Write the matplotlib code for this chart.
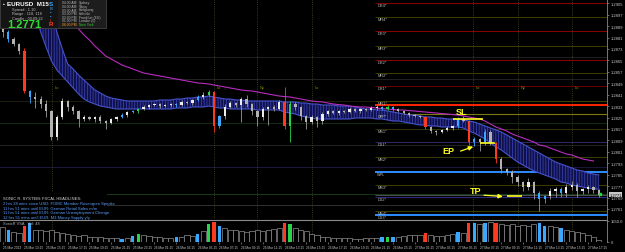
import matplotlib
matplotlib.use("Agg")
import matplotlib.pyplot as plt
from matplotlib.patches import Rectangle

plt.rcParams['font.family'] = ['Liberation Sans', 'DejaVu Sans']
plt.rcParams['hatch.linewidth'] = 0.55

# ---------------- data (prices stored as pips above BASE) ----------------
BASE = 1.2700
PIP = 0.0001
first_open = 187.0
close_pips = [184.9, 180.0, 176.5, 171.6, 143.6, 139.4, 138.0, 134.5, 129.6, 111.4,
              125.4, 136.6, 132.4, 129.6, 124.0, 125.4, 124.0, 125.4, 122.6, 121.2,
              124.0, 125.4, 126.8, 128.9, 129.6, 131.0, 132.4, 133.8, 134.5, 133.1,
              133.8, 134.5, 133.8, 135.9, 135.2, 137.3, 139.4, 140.8, 142.9, 119.1,
              126.1, 132.4, 135.2, 133.8, 138.0, 134.5, 129.6, 125.4, 131.0, 132.4,
              131.0, 135.9, 119.1, 134.5, 132.4, 126.1, 121.9, 125.4, 122.6, 127.5,
              129.6, 128.2, 129.6, 128.9, 131.0, 129.6, 131.0, 130.3, 131.7, 132.4,
              131.0, 132.4, 131.0, 129.6, 128.2, 126.8, 126.1, 125.4, 118.4, 115.6,
              114.9, 116.3, 117.7, 119.1, 124.0, 122.6, 107.9, 110.0, 107.9, 114.9,
              107.2, 96.0, 89.0, 86.9, 83.4, 79.9, 76.4, 79.9, 72.2, 68.0,
              70.1, 73.6, 75.0, 72.2, 76.4, 77.8, 73.6, 75.0, 76.4, 74.3,
              71.0]
up_wick = [2.5, 1.5, 1.2, 1.0, 2.0, 1.0, 3.5, 2.0, 2.5, 1.0,
           1.5, 2.0, 1.0, 1.2, 0.8, 1.5, 1.0, 0.8, 1.2, 0.6,
           1.0, 0.8, 1.2, 0.6, 1.0, 0.8, 1.5, 0.8, 1.0, 0.6,
           0.8, 0.6, 1.0, 1.2, 0.8, 1.0, 1.2, 2.0, 1.5, 1.0,
           1.0, 2.0, 1.5, 1.0, 1.5, 2.5, 1.0, 0.8, 1.5, 1.0,
           1.2, 1.5, 10.5, 2.0, 1.5, 1.0, 0.8, 1.5, 1.0, 1.2,
           1.0, 0.8, 1.0, 0.6, 1.2, 0.8, 1.0, 0.6, 1.2, 1.5,
           1.0, 1.2, 0.8, 1.0, 0.6, 0.8, 1.0, 0.6, 1.0, 0.8,
           0.6, 1.0, 1.2, 0.8, 1.5, 2.0, 1.0, 1.5, 1.0, 2.0,
           1.5, 1.0, 1.5, 1.0, 1.2, 1.5, 1.0, 2.5, 1.0, 1.5,
           1.0, 2.0, 1.2, 1.5, 2.0, 2.5, 1.5, 1.0, 1.2, 1.0,
           0.8]
dn_wick = [3.5, 2.0, 1.5, 2.0, 1.5, 4.5, 6.0, 3.0, 4.5, 2.0,
           2.0, 1.5, 2.5, 2.0, 5.5, 1.5, 1.0, 2.0, 1.5, 4.0,
           1.0, 1.5, 0.8, 1.2, 1.0, 1.5, 1.0, 1.2, 0.8, 1.5,
           1.0, 1.2, 1.5, 1.0, 0.8, 1.2, 1.0, 1.5, 1.0, 4.0,
           1.5, 2.0, 1.0, 1.5, 12.0, 2.0, 3.0, 6.0, 2.0, 11.0,
           1.5, 1.0, 2.0, 11.0, 2.0, 3.0, 5.0, 1.5, 4.5, 2.0,
           1.5, 1.0, 1.2, 1.0, 0.8, 1.0, 1.2, 0.8, 1.0, 1.2,
           0.8, 1.0, 1.2, 0.8, 1.0, 1.2, 0.8, 1.0, 1.5, 1.5,
           2.0, 1.0, 1.0, 1.2, 1.5, 1.0, 2.0, 3.0, 6.5, 2.0,
           1.5, 3.0, 2.5, 2.0, 4.0, 2.5, 3.0, 2.0, 4.0, 8.5,
           3.0, 2.0, 4.0, 2.5, 3.0, 2.0, 4.5, 2.0, 3.0, 2.0,
           1.5]
candle_signal = {1: 'b', 4: 'r', 5: 'b', 22: 'b', 24: 'b', 25: 'g', 32: 'b', 36: 'b',
                 38: 'g', 39: 'r', 40: 'b', 52: 'r', 53: 'g', 70: 'b', 71: 'g', 72: 'b',
                 78: 'r', 84: 'b', 86: 'r', 87: 'b', 89: 'b', 91: 'r', 99: 'b', 100: 'b',
                 103: 'b'}
volume = [1100, 850, 700, 650, 1150, 1350, 900, 850, 800, 900,
          700, 650, 550, 500, 450, 500, 400, 350, 380, 300,
          280, 300, 250, 300, 450, 600, 500, 420, 380, 350,
          300, 280, 350, 400, 500, 450, 600, 800, 1300, 1450,
          1200, 1000, 900, 850, 800, 750, 800, 850, 800, 900,
          950, 1000, 1350, 1300, 1000, 850, 800, 600, 500, 400,
          350, 300, 320, 300, 260, 250, 240, 260, 280, 300,
          350, 380, 380, 400, 420, 500, 480, 520, 650, 480,
          450, 420, 500, 600, 700, 650, 1400, 1400, 1300, 1400,
          1450, 1350, 1300, 1250, 1300, 1200, 1250, 1150, 1300, 1350,
          1200, 1150, 1100, 1000, 900, 800, 700, 650, 500, 400,
          150]
band_hi = [310.9, 299.0, 285.0, 273.1, 261.9, 247.9, 236.0, 222.0, 210.1, 198.9,
           184.9, 173.0, 162.5, 159.0, 154.8, 151.3, 147.8, 144.3, 142.2, 140.1,
           138.7, 138.0, 137.3, 136.6, 136.6, 136.6, 136.6, 136.6, 136.6, 137.3,
           137.3, 137.3, 138.0, 138.0, 138.7, 138.7, 139.4, 139.4, 140.1, 139.4,
           138.7, 138.0, 138.0, 137.3, 137.3, 136.6, 136.6, 136.6, 136.6, 136.6,
           136.6, 136.6, 135.9, 135.9, 135.9, 135.2, 135.2, 134.5, 134.5, 133.8,
           133.8, 133.8, 133.1, 133.1, 133.1, 132.4, 131.7, 131.0, 131.0, 130.3,
           130.3, 129.6, 128.9, 128.2, 127.5, 126.8, 126.8, 126.1, 125.4, 125.4,
           124.7, 124.7, 124.0, 124.0, 124.0, 123.3, 122.6, 121.9, 120.5, 119.1,
           117.7, 116.3, 114.9, 112.8, 110.7, 108.6, 106.5, 104.4, 102.3, 100.2,
           98.1, 96.0, 93.9, 92.5, 91.1, 89.7, 88.3, 87.6, 86.2, 85.5,
           84.8]
band_lo = [264.7, 254.2, 241.6, 231.1, 220.6, 208.0, 197.5, 184.9, 174.4, 164.6,
           158.3, 154.1, 149.9, 145.7, 141.5, 138.0, 135.9, 134.5, 133.1, 132.4,
           131.7, 131.0, 131.0, 131.0, 131.0, 131.0, 131.0, 131.0, 131.0, 131.0,
           131.0, 131.0, 131.7, 131.7, 131.7, 132.4, 132.4, 132.4, 133.1, 132.4,
           131.7, 131.7, 131.0, 131.0, 131.0, 131.0, 131.0, 130.3, 130.3, 130.3,
           130.3, 130.3, 128.9, 128.2, 127.5, 126.1, 125.4, 124.7, 124.0, 124.0,
           124.0, 124.0, 124.0, 124.0, 124.0, 124.7, 124.7, 124.7, 124.7, 124.0,
           124.0, 123.3, 122.6, 122.6, 121.9, 121.2, 120.5, 119.8, 119.8, 119.1,
           119.1, 118.4, 118.4, 118.4, 118.4, 117.7, 115.6, 114.2, 112.1, 110.0,
           107.2, 104.4, 102.3, 99.5, 96.7, 93.9, 91.8, 89.7, 87.6, 86.2,
           84.8, 83.4, 82.0, 79.9, 79.2, 77.8, 77.1, 76.4, 75.7, 75.0,
           75.0]
slow_ma = [250.0, 244.4, 238.8, 233.9, 229.0, 223.4, 218.5, 213.6, 210.1, 206.6,
           202.4, 198.9, 194.7, 191.2, 187.0, 182.8, 179.3, 175.1, 171.6, 168.1,
           166.0, 163.9, 161.8, 160.4, 159.0, 157.6, 156.2, 155.5, 154.8, 154.1,
           153.4, 152.7, 152.0, 151.3, 150.6, 149.9, 149.2, 148.9, 148.5, 147.8,
           147.1, 146.4, 145.7, 145.0, 144.3, 143.9, 143.6, 142.9, 142.2, 141.5,
           140.8, 140.1, 139.7, 139.4, 138.7, 138.0, 137.3, 136.6, 136.2, 135.9,
           135.2, 134.5, 134.1, 133.8, 133.1, 132.7, 132.4, 132.4, 132.0, 131.7,
           131.3, 131.0, 130.6, 130.3, 130.3, 129.9, 129.6, 129.2, 128.9, 128.5,
           128.2, 127.8, 127.5, 127.1, 126.8, 126.1, 125.4, 124.7, 124.0, 122.6,
           120.5, 118.4, 117.0, 115.6, 113.5, 112.1, 110.7, 109.3, 107.9, 105.8,
           105.1, 103.7, 102.3, 100.9, 99.5, 98.8, 97.4, 96.0, 95.3, 94.6,
           None]

pivot_names = ["DR4*", "MR4*", "DR3*", "MR3*", "DR2*", "MR2*", "DR1*", "MR1*", "",
               "DPP*", "MS1*", "DS1*", "MS2*", "WPL", "MS3*", "DS2*", "MS4*", "DS3*"]
pivot_pips = [205.2, 195.4, 185.6, 175.1, 165.3, 156.2, 147.1, 136.6, 133.8,
              127.5, 117.0, 107.9, 97.4, 86.9, 77.8, 69.4, 59.6, 56.8]
pivot_colors = ['#8e0000', '#474700', '#8e0000', '#474700', '#8e0000', '#474700',
                '#6a0000', '#474700', '#ff2400', '#7a7a10', '#3c3c10', '#302a6a',
                '#474700', '#2d8cff', '#474700', '#342c80', '#474700', '#2d8cff']
pivot_widths = [0.7, 0.6, 0.7, 0.6, 0.7, 0.6, 0.7, 0.6, 1.4,
                0.8, 0.6, 0.7, 0.6, 1.4, 0.6, 0.7, 0.6, 1.4]
pivot_start_bar = 68.7

wide_pips = [167.4, 152.0, 136.6, 121.2, 105.8, 90.4, 71.5, 63.8]
wide_colors = ['#262626', '#282828', '#22220e', '#143414', '#282828', '#201c48', '#1c441c', '#383838']

session_bars = [9.1, 39.0, 46.9, 57.1, 86.8, 95.1, 105.0]
session_names = ["Lo", "Lo", "Ny", "Lo", "Lo", "Ny", "Lo"]

date_labels = ["25 Mar 2013", "25 Mar 13:15", "25 Mar 15:15", "25 Mar 17:15", "25 Mar 19:15",
               "25 Mar 21:15", "25 Mar 23:15", "26 Mar 01:15", "26 Mar 03:15", "26 Mar 05:15",
               "26 Mar 07:15", "26 Mar 09:15", "26 Mar 11:15", "26 Mar 13:15", "26 Mar 15:15",
               "26 Mar 17:15", "26 Mar 19:15", "26 Mar 21:15", "26 Mar 23:15", "27 Mar 01:15",
               "27 Mar 03:15", "27 Mar 05:15", "27 Mar 07:15", "27 Mar 09:15", "27 Mar 11:15",
               "27 Mar 13:15", "27 Mar 15:15", "27 Mar 17:15"]
bars_per_label = 4

price_ticks = [1.2905, 1.2897, 1.2889, 1.2881, 1.2873, 1.2865, 1.2857, 1.2849, 1.2841,
               1.2833, 1.2825, 1.2817, 1.2809, 1.2801, 1.2793, 1.2785, 1.2777, 1.2769, 1.2761]
current_price = 1.2771

news_header = "SONIC R. SYSTEM: FXCAL HEADLINES:"
news_lines = ["2 hrs 28 mins since USD: FOMC Member Rosengren Speaks",
              "11 hrs 51 mins until EUR: German Retail Sales m/m",
              "11 hrs 51 mins until EUR: German Unemployment Change",
              "12 hrs 51 mins until EUR: M3 Money Supply y/y"]
clock_times = ["04:00 AM", "04:00 AM", "03:00 AM", "03:00 PM", "03:00 PM", "01:00 PM", "08:00 PM"]
clock_cities = ["Sydney", "Tokyo", "Hongkong", "Helsinki", "Frankfurt (EU)", "London (0)", "New York"]

# trade annotations (bar index, pips)
sl_text = (84.7, 128.9); sl_line = (83.1, 88.6, 124.0)
ep_text = (82.2, 101.6); ep_arrow = ((84.0, 100.9), (87.3, 105.3)); ep_line = (88.1, 90.8, 107.2)
tp_text = (87.3, 73.6); tp_arrow = ((88.3, 70.8), (92.8, 69.6)); tp_line = (93.0, 95.8, 70.1)
last_marker = (110.3, 71.4)

# ---------------- derived ----------------
N = len(close_pips)
xs = list(range(N))
P = lambda v: BASE + v * PIP
opens = [first_open] + close_pips[:-1]
closes = close_pips
highs = [max(o, c) + u for o, c, u in zip(opens, closes, up_wick)]
lows = [min(o, c) - d for o, c, d in zip(opens, closes, dn_wick)]
SIG = {'r': '#ff3b1f', 'b': '#3aa8ff', 'g': '#27d34a'}

BG = '#000000'
fig = plt.figure(figsize=(6.25, 2.53), dpi=100, facecolor=BG)
W, H = 625.0, 253.0
fx = lambda x: x / W
fy = lambda y: 1 - y / H

ax = fig.add_axes([0, fy(220), 607 / W, 220 / H], facecolor=BG)
axv = fig.add_axes([0, fy(243), 607 / W, 22 / H], facecolor=BG)
for a in (ax, axv):
    a.set_xlim(-0.5, 111.5)
    for s in ('left', 'top', 'bottom'):
        a.spines[s].set_visible(False)
    a.spines['right'].set_color('#8a8a8a')
    a.spines['right'].set_linewidth(0.6)
axv.spines['top'].set_visible(True)
axv.spines['top'].set_color('#8a8a8a')
axv.spines['top'].set_linewidth(0.8)
ax.set_ylim(P(54), P(208))
axv.set_ylim(0, 1600)

# wide horizontal levels
for p, c in zip(wide_pips, wide_colors):
    ax.axhline(P(p), color=c, lw=0.6, zorder=1)
# pivots
for name, p, c, w in zip(pivot_names, pivot_pips, pivot_colors, pivot_widths):
    ax.hlines(P(p), pivot_start_bar, 111.5, color=c, lw=w, zorder=1.5)
    if name:
        ax.text(pivot_start_bar + 0.4, P(p - 1.3), name, color='#bcbcbc', fontsize=2.8,
                va='center', ha='left', zorder=6)
ax.hlines(current_price, pivot_start_bar, 111.5, color='#6e6e6e', lw=0.5, zorder=1.6)

# sessions
for b, nm in zip(session_bars, session_names):
    for a in (ax, axv):
        a.axvline(b, color='#4e4e26', lw=0.6, ls=(0, (1, 1.6)), zorder=1)
    ax.text(b + 0.5, P(146.4), nm, color='#8c8c00', fontsize=2.8, va='center', ha='left')

# band (dragon)
ax.fill_between(xs, [P(v) for v in band_lo], [P(v) for v in band_hi], facecolor='#10104a',
                edgecolor='#3a44b4', hatch='||||||', lw=0, zorder=2)
ax.plot(xs, [P(v) for v in band_hi], color='#4652cc', lw=0.8, zorder=2.5)
ax.plot(xs, [P(v) for v in band_lo], color='#4652cc', lw=0.8, zorder=2.5)

# slow MA
ma_x = [x for x, v in zip(xs, slow_ma) if v is not None]
ma_y = [P(v) for v in slow_ma if v is not None]
ax.plot(ma_x, ma_y, color='#b82cc0', lw=0.8, zorder=2.6)

# candles
body_c, wick_c, bottoms, heights = [], [], [], []
for i, (o, c) in enumerate(zip(opens, closes)):
    s = candle_signal.get(i)
    if s:
        col = SIG[s]; wc = SIG[s]
    else:
        col = '#ececec' if c >= o else '#b2b2b2'; wc = '#9a9a9a'
    body_c.append(col); wick_c.append(wc)
    bottoms.append(P(min(o, c)))
    heights.append(max(abs(c - o), 0.4) * PIP)
ax.vlines(xs, [P(v) for v in lows], [P(v) for v in highs], colors=wick_c, lw=0.6, zorder=4)
ax.bar(xs, heights, bottom=bottoms, width=0.42, color=body_c, lw=0, zorder=5)
ax.plot([last_marker[0]], [P(last_marker[1])], 's', color='#22dd33', ms=1.6, zorder=6)

# right price axis
ax.yaxis.tick_right()
ax.set_yticks(price_ticks)
ax.set_yticklabels([f"{t:.4f}" for t in price_ticks])
ax.tick_params(axis='y', colors='#8a8a8a', labelcolor='#c8c8c8', labelsize=3.0, length=1.5,
               width=0.5, pad=1)
ax.set_xticks([])
ax.text(1.004, current_price, f"{current_price:.4f}", transform=ax.get_yaxis_transform(),
        fontsize=3.0, color='#000000', va='center', ha='left', clip_on=False,
        bbox=dict(boxstyle='square,pad=0.15', fc='#c8c8c8', ec='none'), zorder=10)

# volume panel
nv_x = [x for x in xs if x not in candle_signal]
nv_y = [volume[x] for x in nv_x]
axv.bar(nv_x, nv_y, width=0.95, facecolor=BG, edgecolor='#8e8e8e', lw=0.5, zorder=2)
sv_x = [x for x in xs if x in candle_signal]
axv.bar(sv_x, [volume[x] for x in sv_x], width=0.6, color=[SIG[candle_signal[x]] for x in sv_x],
        lw=0, zorder=3)
axv.yaxis.tick_right()
axv.set_yticks([1550, 0])
axv.set_yticklabels(["1550.0", "0"])
axv.tick_params(axis='y', colors='#8a8a8a', labelcolor='#c8c8c8', labelsize=3.0, length=1.5,
                width=0.5, pad=1)
axv.set_xticks([bars_per_label * k for k in range(len(date_labels))])
axv.set_xticklabels(date_labels)
axv.tick_params(axis='x', colors='#8a8a8a', labelcolor='#c8c8c8', labelsize=2.3, length=1.5,
                width=0.5, pad=1)
for lab in axv.get_xticklabels():
    lab.set_ha('left')
axv.text(0.005, 0.88, "SonicR VSA   Vol: 48", transform=axv.transAxes, fontsize=2.8,
         color='#b0b0b0', va='center', ha='left')

# annotations
YEL = '#ffff22'
ax.text(sl_text[0], P(sl_text[1]), "SL", color=YEL, fontsize=6.5, fontweight='bold',
        ha='center', va='center', zorder=8)
ax.hlines(P(sl_line[2]), sl_line[0], sl_line[1], color=YEL, lw=1.2, zorder=8)
ax.text(ep_text[0], P(ep_text[1]), "EP", color=YEL, fontsize=6.5, fontweight='bold',
        ha='center', va='center', zorder=8)
ax.annotate("", xy=(ep_arrow[1][0], P(ep_arrow[1][1])), xytext=(ep_arrow[0][0], P(ep_arrow[0][1])),
            arrowprops=dict(arrowstyle='-|>,head_length=0.25,head_width=0.12', color=YEL, lw=0.9),
            zorder=8)
ax.hlines(P(ep_line[2]), ep_line[0], ep_line[1], color=YEL, lw=1.2, zorder=8)
ax.text(tp_text[0], P(tp_text[1]), "TP", color=YEL, fontsize=6.5, fontweight='bold',
        ha='center', va='center', zorder=8)
ax.annotate("", xy=(tp_arrow[1][0], P(tp_arrow[1][1])), xytext=(tp_arrow[0][0], P(tp_arrow[0][1])),
            arrowprops=dict(arrowstyle='-|>,head_length=0.25,head_width=0.12', color=YEL, lw=0.9),
            zorder=8)
ax.hlines(P(tp_line[2]), tp_line[0], tp_line[1], color=YEL, lw=1.2, zorder=8)

# news block
ax.add_patch(Rectangle((0, 0), 107 / 607, 27 / 220, transform=ax.transAxes, facecolor=BG,
                       edgecolor='none', zorder=7))
fig.text(fx(3), fy(199), news_header, color='#d8d8d8', fontsize=3.0, va='center', ha='left',
         zorder=9)
for k, line in enumerate(news_lines):
    fig.text(fx(3), fy(204 + 4.6 * k), line, color='#5a9cff', fontsize=3.0, va='center',
             ha='left', zorder=9)

# info panel
fig.patches.append(Rectangle((0, fy(29)), fx(106), 29 / H, transform=fig.transFigure,
                             facecolor='#151515', edgecolor='#444444', lw=0.6, zorder=20))
fig.patches.append(Rectangle((fx(58), fy(28.5)), fx(47.5), 28 / H, transform=fig.transFigure,
                             facecolor='#1d1d1d', edgecolor='none', zorder=20))
fig.text(fx(3), fy(4.2), "\u25aa", color='#ffffff', fontsize=3.5, va='center', ha='left', zorder=21)
fig.text(fx(7), fy(4.2), "EURUSD  M15", color='#ffffff', fontsize=4.5, fontweight='bold',
         va='center', ha='left', zorder=21)
for k, t in enumerate(["Spread : 1.10", "Range : 118, 118", "Candle : 00:09:22"]):
    fig.text(fx(12), fy(9.6 + 4.6 * k), t, color='#bdbdbd', fontsize=2.8, va='center', ha='left',
             zorder=21)
fig.text(fx(7), fy(24.5), f"{current_price:.4f}", color='#2fdc2f', fontsize=8, fontweight='bold',
         va='center', ha='left', zorder=21)
fig.text(fx(49), fy(4.8), "S", color='#3aa8ff', fontsize=4.5, fontweight='bold', va='center',
         ha='left', zorder=21)
for k, (g, c) in enumerate([("B", '#3aa8ff'), ("\u25aa", '#3aa8ff'), ("\u25aa", '#3aa8ff'),
                            ("I", '#ff3b1f')]):
    fig.text(fx(50), fy(9.5 + 3.7 * k), g, color=c, fontsize=3.0, va='center', ha='left', zorder=21)
fig.text(fx(49), fy(25), "R", color='#ff3b1f', fontsize=4.5, fontweight='bold', va='center',
         ha='left', zorder=21)
for k, (t, c) in enumerate(zip(clock_times, clock_cities)):
    last = k == len(clock_times) - 1
    fig.text(fx(62), fy(3.3 + 3.6 * k), t, color='#ff9a2a' if last else '#b8b8b8', fontsize=2.4,
             va='center', ha='left', zorder=21)
    fig.text(fx(79), fy(3.3 + 3.6 * k), c, color='#33cc33' if last else '#b8b8b8', fontsize=2.4,
             va='center', ha='left', zorder=21)

fig.savefig("out.png", dpi=100, facecolor=BG)
